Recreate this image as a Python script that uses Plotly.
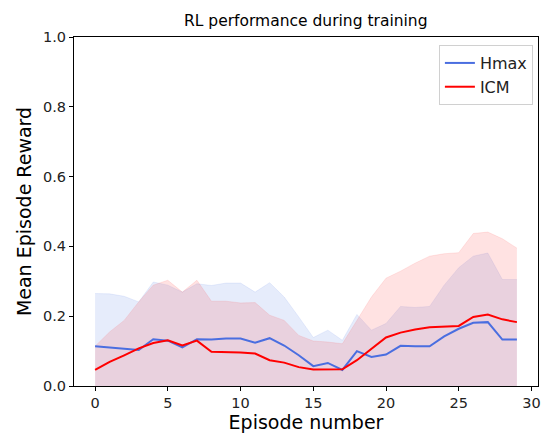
import plotly.graph_objects as go

episodes = list(range(30))

hmax_mean = [0.114, 0.110, 0.107, 0.103, 0.134, 0.130, 0.111, 0.134, 0.133, 0.136,
             0.136, 0.124, 0.137, 0.116, 0.088, 0.057, 0.066, 0.046, 0.100, 0.083,
             0.090, 0.115, 0.114, 0.114, 0.142, 0.164, 0.181, 0.183, 0.133, 0.133]
hmax_upper = [0.265, 0.264, 0.257, 0.241, 0.298, 0.289, 0.269, 0.293, 0.288, 0.295,
              0.295, 0.269, 0.296, 0.255, 0.198, 0.139, 0.160, 0.131, 0.205, 0.160,
              0.179, 0.228, 0.225, 0.228, 0.289, 0.339, 0.372, 0.381, 0.305, 0.305]
hmax_lower = [0.0] * 30

icm_mean = [0.046, 0.069, 0.088, 0.108, 0.123, 0.131, 0.116, 0.130, 0.098, 0.098,
            0.096, 0.093, 0.074, 0.067, 0.054, 0.047, 0.047, 0.048, 0.074, 0.107,
            0.139, 0.153, 0.162, 0.168, 0.171, 0.172, 0.198, 0.205, 0.191, 0.183]
icm_upper = [0.114, 0.155, 0.188, 0.241, 0.289, 0.303, 0.269, 0.303, 0.243, 0.243,
             0.238, 0.239, 0.203, 0.188, 0.145, 0.129, 0.126, 0.121, 0.188, 0.255,
             0.309, 0.329, 0.352, 0.372, 0.379, 0.382, 0.437, 0.441, 0.422, 0.395]
icm_lower = [0.0] * 30

x_ticks = [0, 5, 10, 15, 20, 25, 30]
y_ticks = [0.0, 0.2, 0.4, 0.6, 0.8, 1.0]

BLUE = "#4a6ee0"
RED = "#ff0000"
FONT = "DejaVu Sans"

fig = go.Figure()


def add_band(lower, upper, fill):
    fig.add_trace(go.Scatter(x=episodes, y=lower, mode="lines",
                             line=dict(width=0, color=fill), showlegend=False,
                             hoverinfo="skip"))
    fig.add_trace(go.Scatter(x=episodes, y=upper, mode="lines", fill="tonexty",
                             fillcolor=fill, line=dict(width=0.8, color=fill),
                             showlegend=False, hoverinfo="skip"))


add_band(hmax_lower, hmax_upper, "rgba(65,105,225,0.13)")
add_band(icm_lower, icm_upper, "rgba(255,60,60,0.15)")

fig.add_trace(go.Scatter(x=episodes, y=hmax_mean, mode="lines", name="Hmax",
                         line=dict(color=BLUE, width=2)))
fig.add_trace(go.Scatter(x=episodes, y=icm_mean, mode="lines", name="ICM",
                         line=dict(color=RED, width=2)))

axis_common = dict(showgrid=False, zeroline=False, showline=True, mirror=True,
                   linecolor="black", linewidth=1, ticks="outside", ticklen=4,
                   tickcolor="black", tickwidth=1,
                   tickfont=dict(family=FONT, size=14.5, color="#222"))

fig.update_xaxes(range=[-1.45, 30.45], tickvals=x_ticks,
                 title=dict(text="Episode number", font=dict(family=FONT, size=19, color="black"),
                            standoff=4),
                 **axis_common)
fig.update_yaxes(range=[0, 1], tickvals=y_ticks, tickformat=".1f",
                 title=dict(text="Mean Episode Reward", font=dict(family=FONT, size=19, color="black"),
                            standoff=6),
                 **axis_common)

fig.add_annotation(text="RL performance during training", xref="paper", yref="paper",
                   x=0.5, y=1, yanchor="bottom", yshift=5, showarrow=False,
                   font=dict(family=FONT, size=15.5, color="black"))

fig.update_layout(
    width=545, height=435,
    margin=dict(l=74, r=4, t=37, b=49),
    paper_bgcolor="white", plot_bgcolor="white",
    legend=dict(x=0.989, y=0.977, xanchor="right", yanchor="top",
                traceorder="normal",
                bgcolor="white", bordercolor="#d0d0d0", borderwidth=1,
                font=dict(family=FONT, size=16, color="#222"),
                itemwidth=30, tracegroupgap=2),
    font=dict(family=FONT),
)

fig.write_html("out.html")
